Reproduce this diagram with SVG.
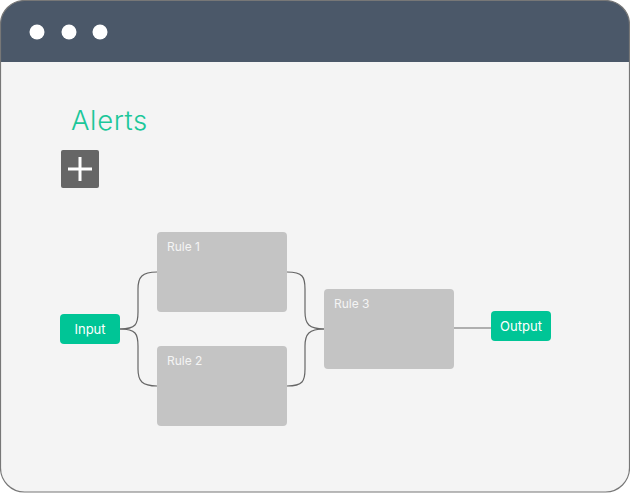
<svg xmlns="http://www.w3.org/2000/svg" width="630" height="493" viewBox="0 0 630 493">
<style>
.rule{fill:#c4c4c4}
.rt{font-family:"Inter","Liberation Sans",sans-serif;font-size:12px;fill:#f4f4f4}
.io{fill:#00c596}
.iot{font-family:"Inter","Liberation Sans",sans-serif;font-size:13px;fill:#ffffff;text-anchor:middle}
.conn{fill:none;stroke:#666;stroke-width:1.2}
</style>
<defs>
<clipPath id="win"><rect x="0.5" y="0.5" width="629" height="491.5" rx="24"/></clipPath>
</defs>
<g id="window">
<rect x="0.5" y="0.5" width="629" height="491.5" rx="24" fill="#f4f4f4"/>
<rect x="0" y="0" width="630" height="62" fill="#4b5869" clip-path="url(#win)"/>
<rect x="0.5" y="0.5" width="629" height="491.5" rx="24" fill="none" stroke="#777" stroke-width="1.2"/>
<circle cx="37" cy="32" r="7.5" fill="#fff"/>
<circle cx="69" cy="32" r="7.5" fill="#fff"/>
<circle cx="100" cy="32" r="7.5" fill="#fff"/>
</g>
<g id="title">
<text x="71" y="129.5" font-family="Inter,'Liberation Sans',sans-serif" font-size="27.5" font-weight="300" letter-spacing="0.6" fill="#1cc79a">Alerts</text>
</g>
<g id="add-button">
<rect x="61" y="150" width="38" height="38" rx="2" fill="#666"/>
<path d="M68 169H92M80 157V181" stroke="#fff" stroke-width="3"/>
</g>
<g id="connectors">
<path class="conn" d="M120 329C136 329 138 324 138 312L138 289C138 277 142 272 157 272"/>
<path class="conn" d="M120 329C136 329 138 334 138 346L138 369C138 381 142 386 157 386"/>
<path class="conn" d="M287 272C303 272 305 277 305 289L305 312C305 324 309 329 324 329"/>
<path class="conn" d="M287 386C303 386 305 381 305 369L305 346C305 334 309 329 324 329"/>
<path d="M454 328H491" stroke="#999" stroke-width="1.5"/>
</g>
<g id="rule1"><rect class="rule" x="157" y="232" width="130" height="80" rx="4"/><text class="rt" x="167" y="251">Rule 1</text></g>
<g id="rule2"><rect class="rule" x="157" y="346" width="130" height="80" rx="4"/><text class="rt" x="167" y="365">Rule 2</text></g>
<g id="rule3"><rect class="rule" x="324" y="289" width="130" height="80" rx="4"/><text class="rt" x="334" y="308">Rule 3</text></g>
<g id="input"><rect class="io" x="60" y="314" width="60" height="30" rx="4"/><text class="iot" x="90" y="333.5">Input</text></g>
<g id="output"><rect class="io" x="491" y="311" width="60" height="30" rx="4"/><text class="iot" x="521" y="330.5">Output</text></g>
</svg>
